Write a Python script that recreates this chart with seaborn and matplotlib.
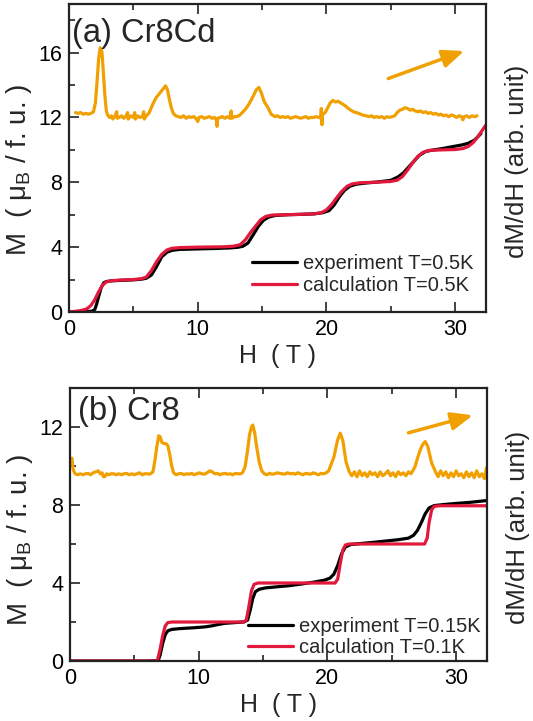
import numpy as np
import pandas as pd
import matplotlib
matplotlib.use("Agg")
import matplotlib.pyplot as plt
from matplotlib.ticker import MultipleLocator
import seaborn as sns

# Each series is a list of (H [T], value) pairs.
# ---------------- Panel (a): Cr8Cd ----------------
a_exp = [(0.0, 0.0), (0.5, 0.01), (1.0, 0.02), (1.5, 0.03), (1.8, 0.05), (2.0, 0.15), (2.15, 0.5),
         (2.3, 0.95), (2.5, 1.5), (2.7, 1.8), (2.9, 1.88), (3.3, 1.92), (4.0, 1.95), (5.0, 1.98),
         (5.6, 2.02), (6.0, 2.08), (6.4, 2.28), (6.8, 2.8), (7.2, 3.4), (7.6, 3.68), (8.0, 3.8),
         (8.6, 3.86), (9.5, 3.88), (10.5, 3.9), (11.5, 3.92), (12.5, 3.95), (13.1, 3.99),
         (13.5, 4.05), (13.9, 4.25), (14.3, 4.75), (14.7, 5.27), (15.1, 5.65), (15.5, 5.85),
         (16.0, 5.95), (17.0, 6.0), (18.0, 6.02), (19.0, 6.05), (19.7, 6.12), (20.2, 6.25),
         (20.6, 6.6), (21.0, 7.1), (21.4, 7.5), (21.8, 7.75), (22.3, 7.88), (23.0, 7.95),
         (24.0, 8.02), (25.0, 8.12), (25.6, 8.35), (26.0, 8.6), (26.4, 8.95), (26.8, 9.3),
         (27.2, 9.65), (27.7, 9.9), (28.2, 9.98), (29.0, 10.08), (29.8, 10.2), (30.5, 10.3),
         (31.0, 10.4), (31.5, 10.6), (32.0, 11.0)]

a_calc = [(0.0, 0.0), (0.5, 0.04), (1.0, 0.1), (1.4, 0.2), (1.7, 0.4), (2.0, 0.75), (2.3, 1.25),
          (2.6, 1.65), (2.9, 1.85), (3.3, 1.93), (4.0, 1.97), (5.0, 2.0), (5.6, 2.05), (6.0, 2.15),
          (6.4, 2.55), (6.8, 3.1), (7.2, 3.55), (7.6, 3.82), (8.0, 3.93), (8.6, 3.97), (10.0, 4.0),
          (12.0, 4.02), (12.8, 4.06), (13.3, 4.15), (13.7, 4.45), (14.1, 4.9), (14.5, 5.3),
          (14.9, 5.7), (15.3, 5.9), (15.8, 5.98), (17.0, 6.0), (19.0, 6.05), (19.6, 6.12),
          (20.0, 6.3), (20.4, 6.62), (20.8, 7.05), (21.2, 7.45), (21.6, 7.75), (22.0, 7.9),
          (22.6, 7.97), (24.0, 8.01), (25.0, 8.05), (25.5, 8.13), (25.9, 8.35), (26.3, 8.75),
          (26.7, 9.2), (27.1, 9.6), (27.5, 9.85), (28.0, 9.97), (29.0, 10.0), (30.0, 10.02),
          (30.6, 10.08), (31.0, 10.2), (31.4, 10.45), (31.8, 10.85), (32.1, 11.2), (32.4, 11.55)]

a_dmdh = [(0.5, 12.3), (0.7, 12.25), (0.9, 12.3), (1.1, 12.2), (1.3, 12.25), (1.5, 12.2),
          (1.7, 12.25), (1.9, 12.35), (2.05, 12.9), (2.15, 13.9), (2.3, 15.6), (2.42, 16.3),
          (2.55, 16.1), (2.65, 15.0), (2.78, 13.4), (2.9, 12.4), (3.0, 12.15), (3.15, 12.0),
          (3.3, 12.1), (3.4, 11.9), (3.55, 12.05), (3.7, 12.35), (3.75, 11.95), (3.9, 12.0),
          (4.1, 12.1), (4.25, 11.95), (4.4, 12.05), (4.55, 12.3), (4.6, 11.9), (4.8, 12.1),
          (5.0, 12.0), (5.1, 12.3), (5.15, 11.9), (5.35, 12.1), (5.5, 12.0), (5.7, 12.05),
          (5.8, 12.35), (5.85, 11.9), (6.0, 12.1), (6.2, 12.25), (6.5, 12.8), (6.75, 13.2),
          (7.0, 13.45), (7.25, 13.7), (7.5, 13.95), (7.65, 13.7), (7.8, 13.1), (7.95, 12.6),
          (8.1, 12.25), (8.3, 12.1), (8.5, 12.05), (8.7, 12.0), (8.9, 12.1), (9.1, 11.95),
          (9.3, 12.05), (9.5, 12.0), (9.7, 12.05), (9.9, 11.9), (10.0, 11.75), (10.1, 12.0),
          (10.3, 12.05), (10.5, 11.95), (10.7, 12.0), (10.9, 12.05), (11.1, 11.95), (11.3, 12.0),
          (11.45, 11.85), (11.5, 11.45), (11.55, 11.95), (11.75, 12.0), (11.9, 12.05),
          (12.1, 11.95), (12.3, 12.05), (12.5, 11.95), (12.6, 12.4), (12.65, 11.95),
          (12.85, 12.05), (13.0, 12.05), (13.2, 12.1), (13.4, 12.25), (13.7, 12.5), (14.0, 12.85),
          (14.3, 13.3), (14.55, 13.7), (14.75, 13.85), (14.95, 13.5), (15.15, 13.0),
          (15.35, 12.75), (15.5, 12.55), (15.7, 12.2), (16.0, 12.05), (16.2, 12.1), (16.4, 12.0),
          (16.6, 12.05), (16.8, 12.0), (17.0, 12.05), (17.2, 11.95), (17.4, 12.0), (17.6, 12.05),
          (17.8, 12.0), (18.0, 11.95), (18.2, 12.0), (18.4, 12.05), (18.6, 11.95), (18.8, 12.0),
          (19.0, 12.0), (19.2, 12.05), (19.4, 12.0), (19.5, 12.0), (19.55, 11.95), (19.6, 12.55),
          (19.65, 11.55), (19.7, 12.2), (19.9, 12.3), (20.1, 12.6), (20.3, 12.9), (20.5, 13.05),
          (20.7, 12.95), (20.9, 13.0), (21.1, 12.9), (21.3, 12.8), (21.5, 12.7), (21.7, 12.55),
          (21.9, 12.45), (22.1, 12.35), (22.3, 12.3), (22.5, 12.25), (22.8, 12.15), (23.1, 12.1),
          (23.3, 12.05), (23.5, 12.1), (23.7, 12.0), (23.9, 12.05), (24.1, 12.0), (24.3, 12.05),
          (24.5, 11.95), (24.7, 12.05), (24.9, 12.0), (25.1, 12.05), (25.3, 12.1), (25.5, 12.3),
          (25.7, 12.45), (25.9, 12.5), (26.1, 12.6), (26.3, 12.55), (26.5, 12.45), (26.7, 12.5),
          (26.9, 12.4), (27.1, 12.35), (27.3, 12.4), (27.5, 12.3), (27.7, 12.35), (27.9, 12.25),
          (28.1, 12.3), (28.3, 12.2), (28.5, 12.25), (28.7, 12.15), (28.9, 12.2), (29.1, 12.1),
          (29.3, 12.15), (29.5, 12.05), (29.7, 12.15), (29.9, 12.1), (30.1, 12.0), (30.3, 12.1),
          (30.5, 12.05), (30.6, 11.85), (30.7, 12.05), (30.9, 12.1), (31.1, 12.0), (31.3, 12.1),
          (31.5, 12.05), (31.7, 12.1)]

# ---------------- Panel (b): Cr8 ----------------
b_exp = [(0.0, 0.0), (3.0, 0.0), (6.0, 0.0), (6.85, 0.02), (7.0, 0.3), (7.2, 0.9), (7.4, 1.35),
         (7.6, 1.55), (7.9, 1.62), (8.5, 1.66), (9.5, 1.7), (10.5, 1.75), (11.0, 1.8), (11.5, 1.87),
         (12.0, 1.93), (12.8, 1.97), (13.5, 2.0), (13.8, 2.1), (14.0, 2.6), (14.2, 3.2),
         (14.4, 3.55), (14.7, 3.68), (15.2, 3.75), (16.0, 3.8), (17.0, 3.86), (18.0, 3.95),
         (19.0, 4.05), (19.8, 4.15), (20.2, 4.25), (20.5, 4.45), (20.8, 4.9), (21.1, 5.5),
         (21.4, 5.85), (21.8, 5.97), (22.5, 6.02), (23.5, 6.08), (24.5, 6.15), (25.5, 6.22),
         (26.3, 6.3), (26.7, 6.45), (27.0, 6.7), (27.3, 7.1), (27.6, 7.55), (27.9, 7.85),
         (28.3, 7.97), (29.0, 8.02), (30.0, 8.08), (31.0, 8.13), (32.0, 8.2), (32.4, 8.23)]

b_calc = [(0.0, 0.0), (3.0, 0.0), (6.6, 0.0), (6.8, 0.05), (7.0, 0.6), (7.2, 1.3), (7.4, 1.8),
          (7.6, 1.97), (7.9, 2.0), (10.0, 2.0), (13.5, 2.0), (13.7, 2.1), (13.9, 2.8), (14.1, 3.6),
          (14.3, 3.93), (14.6, 4.0), (17.0, 4.0), (20.6, 4.0), (20.8, 4.2), (21.0, 5.0),
          (21.2, 5.7), (21.4, 5.95), (21.7, 6.0), (24.0, 6.0), (27.55, 6.0), (27.75, 6.3),
          (27.9, 7.1), (28.1, 7.75), (28.3, 7.93), (28.7, 7.96), (31.0, 7.96), (32.4, 7.96)]

b_dmdh = [(0.15, 10.4), (0.25, 9.8), (0.4, 9.6), (0.6, 9.55), (0.8, 9.6), (1.0, 9.55), (1.2, 9.6),
          (1.4, 9.62), (1.6, 9.55), (1.8, 9.65), (2.0, 9.7), (2.2, 9.75), (2.35, 9.6), (2.5, 9.65),
          (2.6, 9.45), (2.7, 9.45), (2.85, 9.6), (3.0, 9.55), (3.2, 9.6), (3.4, 9.6), (3.6, 9.55),
          (3.8, 9.6), (4.0, 9.55), (4.2, 9.6), (4.4, 9.62), (4.6, 9.55), (4.8, 9.6), (5.0, 9.55),
          (5.2, 9.6), (5.4, 9.65), (5.6, 9.55), (5.8, 9.6), (6.0, 9.6), (6.2, 9.58), (6.45, 9.7),
          (6.6, 10.3), (6.75, 11.0), (6.9, 11.55), (7.0, 11.5), (7.15, 11.2), (7.3, 11.15),
          (7.45, 11.15), (7.6, 11.05), (7.75, 10.6), (7.9, 10.0), (8.05, 9.65), (8.25, 9.55),
          (8.45, 9.6), (8.65, 9.62), (8.85, 9.55), (9.05, 9.6), (9.25, 9.58), (9.45, 9.62),
          (9.65, 9.55), (9.85, 9.6), (10.05, 9.65), (10.25, 9.6), (10.45, 9.58), (10.65, 9.65),
          (10.85, 9.75), (11.05, 9.7), (11.25, 9.6), (11.45, 9.62), (11.65, 9.55), (11.85, 9.6),
          (12.05, 9.62), (12.25, 9.58), (12.45, 9.6), (12.65, 9.55), (12.85, 9.62), (13.05, 9.6),
          (13.25, 9.6), (13.4, 9.65), (13.6, 9.95), (13.8, 10.8), (13.95, 11.6), (14.1, 12.0),
          (14.2, 12.1), (14.35, 11.7), (14.5, 11.0), (14.7, 10.2), (14.9, 9.75), (15.1, 9.6),
          (15.3, 9.55), (15.5, 9.62), (15.7, 9.58), (15.9, 9.6), (16.1, 9.65), (16.3, 9.62),
          (16.5, 9.6), (16.7, 9.58), (16.9, 9.65), (17.1, 9.6), (17.3, 9.62), (17.5, 9.58),
          (17.7, 9.65), (17.9, 9.6), (18.1, 9.55), (18.3, 9.62), (18.5, 9.6), (18.7, 9.58),
          (18.9, 9.65), (19.1, 9.6), (19.3, 9.55), (19.5, 9.62), (19.7, 9.6), (19.9, 9.65),
          (20.1, 9.75), (20.3, 10.1), (20.5, 10.45), (20.65, 10.9), (20.8, 11.35), (21.0, 11.68),
          (21.2, 11.3), (21.45, 10.2), (21.7, 9.7), (21.9, 9.5), (22.1, 9.7), (22.3, 9.45),
          (22.5, 9.75), (22.7, 9.5), (22.9, 9.65), (23.1, 9.45), (23.3, 9.7), (23.5, 9.55),
          (23.7, 9.65), (23.9, 9.45), (24.1, 9.7), (24.3, 9.5), (24.5, 9.6), (24.7, 9.75),
          (24.9, 9.5), (25.1, 9.65), (25.3, 9.45), (25.5, 9.7), (25.7, 9.55), (25.9, 9.65),
          (26.1, 9.5), (26.3, 9.7), (26.5, 9.6), (26.8, 9.95), (27.0, 10.4), (27.2, 10.8),
          (27.4, 11.1), (27.6, 11.25), (27.8, 11.0), (28.1, 10.15), (28.4, 9.7), (28.6, 9.45),
          (28.8, 9.75), (29.0, 9.5), (29.2, 9.7), (29.4, 9.4), (29.6, 9.65), (29.8, 9.45),
          (30.0, 9.75), (30.2, 9.5), (30.4, 9.6), (30.6, 9.4), (30.8, 9.7), (31.0, 9.45),
          (31.2, 9.65), (31.4, 9.4), (31.6, 9.75), (31.8, 9.45), (32.0, 9.6), (32.2, 9.35),
          (32.35, 9.9)]

# Field-sweep direction arrows (data coordinates: start, end)
arrow_a = ((24.8, 14.4), (30.7, 16.1))
arrow_b = ((26.3, 11.7), (31.3, 12.6))

legend_exp = ["experiment T=0.5K", "experiment T=0.15K"]
legend_calc = ["calculation T=0.5K", "calculation T=0.1K"]
panel_titles = ["(a) Cr8Cd", "(b) Cr8"]

ORANGE = "#F0A000"
RED = "#E2183C"
BLACK = "#000000"

sns.set_theme(style="ticks")
plt.rcParams["font.family"] = ["Liberation Sans", "DejaVu Sans"]
plt.rcParams["mathtext.default"] = "regular"
plt.rcParams["axes.linewidth"] = 1.5

fig = plt.figure(figsize=(5.33, 7.21), dpi=100)
ax_a = fig.add_axes([0.1295, 0.5673, 0.7824, 0.4272])
ax_b = fig.add_axes([0.1313, 0.0832, 0.7824, 0.3787])


def to_frame(pairs, col):
    return pd.DataFrame(pairs, columns=["H", col])


def draw_panel(ax, exp, calc, dmdh, ylim, ymajor, title, title_xy,
               lab_exp, lab_calc, leg_xy, arrow, ylab_y, rlab_y):
    sns.lineplot(data=to_frame(dmdh, "V"), x="H", y="V", ax=ax, color=ORANGE, lw=2.3,
                 sort=False, estimator=None)
    sns.lineplot(data=to_frame(exp, "M"), x="H", y="M", ax=ax, color=BLACK, lw=2.3,
                 sort=False, estimator=None, label=lab_exp)
    sns.lineplot(data=to_frame(calc, "M"), x="H", y="M", ax=ax, color=RED, lw=2.3,
                 sort=False, estimator=None, label=lab_calc)

    ax.set_xlim(0, 32.4)
    ax.set_ylim(*ylim)
    ax.xaxis.set_major_locator(MultipleLocator(10))
    ax.xaxis.set_minor_locator(MultipleLocator(5))
    ax.yaxis.set_major_locator(MultipleLocator(ymajor))
    ax.yaxis.set_minor_locator(MultipleLocator(ymajor / 2))
    ax.tick_params(which="both", direction="in", top=True, right=True,
                   width=1.2, colors="#222222", labelcolor="black")
    ax.tick_params(which="major", length=7, labelsize=15.5, pad=5)
    ax.tick_params(which="minor", length=4.5)
    for s in ax.spines.values():
        s.set_visible(True)
        s.set_linewidth(1.6)
        s.set_color("#222222")

    ax.set_xlabel("H  ( T )", fontsize=18, labelpad=3)
    ax.set_ylabel("M  ( μ$_B$ / f. u. )", fontsize=20)
    ax.yaxis.set_label_coords(-0.084, ylab_y)

    rax = ax.twinx()
    rax.set_ylim(*ylim)
    rax.set_yticks([])
    rax.set_ylabel("dM/dH (arb. unit)", fontsize=18.5, rotation=90)
    rax.yaxis.set_label_coords(1.045, rlab_y)
    for s in rax.spines.values():
        s.set_visible(False)

    ax.text(title_xy[0], title_xy[1], title, transform=ax.transAxes,
            fontsize=23.5, ha="left", va="baseline")

    ax.annotate("", xy=arrow[1], xytext=arrow[0],
                arrowprops=dict(arrowstyle="-|>,head_length=0.65,head_width=0.27",
                                color=ORANGE, lw=2.5, shrinkA=0, shrinkB=0,
                                mutation_scale=20))

    leg = ax.legend(loc="center left", bbox_to_anchor=leg_xy, frameon=False,
                    fontsize=14.5, handlelength=2.25, handletextpad=0.3,
                    labelspacing=0.12, borderpad=0, borderaxespad=0)
    for line in leg.get_lines():
        line.set_linewidth(2.3)


draw_panel(ax_a, a_exp, a_calc, a_dmdh, (0, 19), 4, panel_titles[0], (0.007, 0.877),
           legend_exp[0], legend_calc[0], (0.439, 0.122), arrow_a, 0.46, 0.49)
draw_panel(ax_b, b_exp, b_calc, b_dmdh, (0, 14), 4, panel_titles[1], (0.019, 0.883),
           legend_exp[1], legend_calc[1], (0.427, 0.088), arrow_b, 0.443, 0.49)

fig.savefig("out.png", dpi=100)
